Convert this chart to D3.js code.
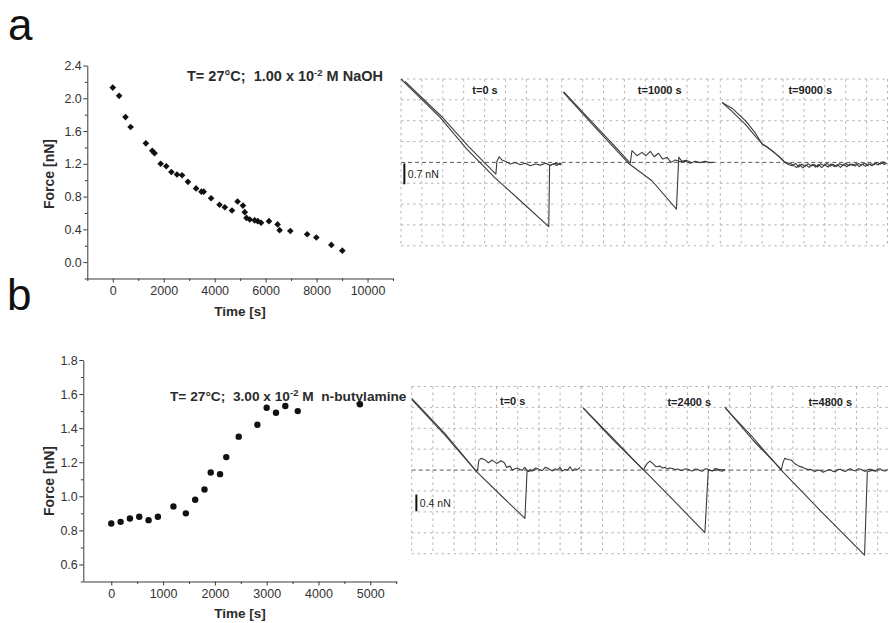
<!DOCTYPE html>
<html>
<head>
<meta charset="utf-8">
<script src="https://cdn.jsdelivr.net/npm/d3@7"></script>
<style>
  html, body { margin: 0; padding: 0; background: #fff; }
  svg { display: block; font-family: "Liberation Sans", Arial, Helvetica, sans-serif; }
</style>
</head>
<body>
<svg id="fig" width="888" height="623"></svg>
<script>
// ---------- (a) pull-off force vs. time in 1.00e-2 M NaOH ----------
const naohTime  = [0, 250, 500, 700, 1300, 1550, 1640, 1880, 2100, 2300, 2520, 2720, 2950, 3270, 3480, 3570,
                   3860, 4190, 4400, 4680, 4900, 5110, 5180, 5250, 5380, 5570, 5690, 5820, 6130, 6470, 6550,
                   6970, 7630, 7990, 8580, 9010];
const naohForce = [2.13, 2.03, 1.77, 1.65, 1.45, 1.36, 1.33, 1.20, 1.17, 1.10, 1.07, 1.06, 0.98, 0.90, 0.86, 0.86,
                   0.78, 0.70, 0.67, 0.63, 0.74, 0.69, 0.61, 0.54, 0.52, 0.51, 0.50, 0.48, 0.50, 0.46, 0.39,
                   0.38, 0.34, 0.30, 0.21, 0.14];
const naohXTicks = [0, 2000, 4000, 6000, 8000, 10000];
const naohXMinor = [-1000, 1000, 3000, 5000, 7000, 9000, 11000];
const naohYTicks = [0.0, 0.4, 0.8, 1.2, 1.6, 2.0, 2.4];
const naohYMinor = [-0.2, 0.2, 0.6, 1.0, 1.4, 1.8, 2.2];

// ---------- (b) pull-off force vs. time in 3.00e-2 M n-butylamine ----------
const amineTime  = [0, 180, 360, 540, 720, 900, 1200, 1440, 1620, 1800, 1920, 2100, 2220, 2460, 2820, 3000,
                    3180, 3360, 3600, 4800];
const amineForce = [0.84, 0.85, 0.87, 0.88, 0.86, 0.88, 0.94, 0.90, 0.98, 1.04, 1.14, 1.13, 1.23, 1.35, 1.42, 1.52,
                    1.49, 1.53, 1.50, 1.54];
const amineXTicks = [0, 1000, 2000, 3000, 4000, 5000];
const amineXMinor = [500, 1500, 2500, 3500, 4500, 5500];
const amineYTicks = [0.6, 0.8, 1.0, 1.2, 1.4, 1.6, 1.8];
const amineYMinor = [0.5, 0.7, 0.9, 1.1, 1.3, 1.5, 1.7];

// ---------- force-distance traces: [piezo position, deflection] in screen divisions ----------
// NaOH, t = 0 s
const naoh0Retract  = [[0, 4.0], [1.87, 2.16], [3.15, 0.64], [4.51, -0.75], [5.79, -1.91], [7.07, -3.08],
                       [7.11, -0.16], [7.3, -0.06], [7.45, -0.15], [7.6, -0.03], [7.71, -0.1]];
const naoh0Approach = [[7.71, -0.08], [7.63, -0.11], [7.39, -0.04], [7.15, -0.14], [6.91, -0.04], [6.67, -0.13],
                       [6.43, -0.08], [6.19, -0.16], [5.95, -0.04], [5.71, -0.11], [5.47, 0.0], [5.23, -0.08],
                       [4.99, 0.05], [4.83, 0.12], [4.70, 0.27], [4.59, 0.05], [4.54, -0.56], [3.25, 0.74],
                       [1.95, 2.19], [0.19, 3.89]];
// NaOH, t = 1000 s
const naoh1000Retract  = [[0.08, 3.36], [1.6, 1.68], [3.19, -0.04], [4.32, -0.88], [5.49, -2.24], [5.6, 0.25],
                          [5.75, 0.05], [5.95, 0.1], [6.2, 0.0]];
const naoh1000Approach = [[7.34, 0.01], [7.10, -0.01], [6.86, 0.05], [6.63, -0.01], [6.39, 0.05], [6.15, -0.04],
                          [5.91, 0.05], [5.67, 0.03], [5.43, 0.12], [5.23, 0.0], [5.04, 0.24], [4.83, 0.16],
                          [4.63, 0.44], [4.43, 0.27], [4.24, 0.53], [4.03, 0.32], [3.84, 0.48], [3.60, 0.32],
                          [3.36, 0.56], [3.28, -0.04], [2.4, 0.92], [1.6, 1.78], [0.1, 3.38]];
// NaOH, t = 9000 s
const naoh9000Retract  = [[0.08, 2.88], [0.56, 2.6], [1.2, 2.0], [1.68, 1.4], [2.0, 0.88], [2.3, 0.7], [2.56, 0.48],
                          [2.8, 0.3], [3.04, 0.05], [3.25, -0.1], [3.44, -0.16], [3.6, -0.05], [3.75, -0.22],
                          [3.9, -0.08], [4.05, -0.2], [4.2, -0.06], [4.35, -0.17], [4.5, -0.1], [4.65, -0.22],
                          [4.8, -0.07], [4.95, -0.15], [5.1, -0.05], [5.25, -0.18], [5.4, -0.09], [5.55, -0.2],
                          [5.7, -0.06], [5.85, -0.14], [6.0, -0.04], [6.15, -0.16], [6.3, -0.08], [6.45, -0.18],
                          [6.6, -0.05], [6.75, -0.13], [6.9, -0.03], [7.05, -0.15], [7.2, -0.06], [7.35, -0.11],
                          [7.5, 0.0], [7.65, -0.09], [7.8, 0.03], [7.95, -0.06]];
const naoh9000Approach = [[7.95, -0.02], [7.85, -0.1], [7.7, 0.01], [7.55, -0.12], [7.4, -0.04], [7.25, -0.16],
                          [7.1, -0.07], [6.95, -0.19], [6.8, -0.09], [6.65, -0.2], [6.5, -0.06], [6.35, -0.15],
                          [6.2, -0.08], [6.05, -0.21], [5.9, -0.1], [5.75, -0.24], [5.6, -0.11], [5.45, -0.2],
                          [5.3, -0.07], [5.15, -0.22], [5.0, -0.12], [4.85, -0.25], [4.7, -0.1], [4.55, -0.23],
                          [4.4, -0.09], [4.25, -0.24], [4.1, -0.12], [3.95, -0.26], [3.8, -0.1], [3.65, -0.25],
                          [3.5, -0.14], [3.35, -0.05], [3.1, 0.0], [2.8, 0.28], [2.5, 0.55], [2.0, 0.9],
                          [1.68, 1.25], [1.2, 1.82], [0.56, 2.45], [0.1, 2.86]];
// n-butylamine, t = 0 s
const amine0Retract  = [[0.03, 3.35], [1.57, 1.67], [3.07, -0.08], [4.24, -1.24], [5.34, -2.31], [5.44, -0.08],
                        [5.66, -0.03], [5.89, 0.03]];
const amine0Approach = [[7.94, 0.13], [7.82, 0.02], [7.70, 0.06], [7.58, -0.03], [7.47, 0.16], [7.35, 0.0],
                        [7.23, 0.03], [7.1, -0.05], [6.99, 0.13], [6.88, 0.0], [6.76, 0.06], [6.64, -0.04],
                        [6.52, 0.03], [6.40, 0.1], [6.29, 0.13], [6.17, -0.02], [6.05, 0.0], [5.93, 0.08],
                        [5.82, 0.10], [5.7, -0.04], [5.58, 0.03], [5.46, -0.06], [5.34, 0.13], [5.22, 0.0],
                        [5.11, 0.03], [4.99, 0.1], [4.87, 0.06], [4.75, 0.0], [4.64, 0.19], [4.48, 0.13],
                        [4.37, 0.35], [4.21, 0.45], [4.01, 0.32], [3.80, 0.48], [3.62, 0.35], [3.43, 0.51],
                        [3.27, 0.56], [3.17, 0.48], [3.11, 0.03], [3.07, -0.08], [1.57, 1.75], [0, 3.43]];
// n-butylamine, t = 2400 s
const amine2400Retract  = [[0.09, 2.96], [1.5, 1.45], [3.0, -0.05], [4.4, -1.5], [5.83, -2.99], [5.99, 0.0],
                           [6.2, -0.03], [6.5, 0.03], [6.78, 0.0]];
const amine2400Approach = [[6.78, 0.03], [6.66, -0.05], [6.54, -0.03], [6.42, 0.06], [6.31, 0.08], [6.19, -0.04],
                           [6.07, -0.02], [5.95, 0.05], [5.84, 0.06], [5.72, -0.05], [5.60, -0.03], [5.48, 0.04],
                           [5.36, 0.05], [5.24, -0.04], [5.13, -0.02], [5.01, 0.05], [4.89, 0.06], [4.77, -0.02],
                           [4.66, 0.0], [4.54, 0.05], [4.42, 0.03], [4.30, 0.08], [4.18, 0.10], [4.06, 0.06],
                           [3.95, 0.13], [3.83, 0.1], [3.71, 0.19], [3.52, 0.16], [3.37, 0.32], [3.24, 0.43],
                           [3.11, 0.32], [2.99, 0.13], [2.93, 0.0], [1.5, 1.52], [0.09, 2.98]];
// n-butylamine, t = 4800 s
const amine4800Retract  = [[-0.18, 2.95], [1.11, 1.56], [2.45, 0.0], [4.42, -2.07], [6.38, -4.07], [6.51, -0.08],
                           [6.78, 0.0], [7.0, -0.04]];
const amine4800Approach = [[7.47, 0.03], [7.36, -0.04], [7.25, -0.03], [7.13, 0.05], [7.01, 0.06], [6.9, -0.05],
                           [6.78, -0.03], [6.66, 0.04], [6.54, 0.03], [6.42, -0.06], [6.30, -0.02], [6.18, 0.05],
                           [6.07, 0.06], [5.95, -0.04], [5.83, 0.0], [5.71, 0.06], [5.60, 0.03], [5.48, -0.07],
                           [5.36, -0.03], [5.24, 0.04], [5.12, 0.03], [5.0, -0.08], [4.89, -0.06], [4.77, 0.02],
                           [4.65, 0.0], [4.53, -0.05], [4.42, -0.10], [4.30, -0.02], [4.18, 0.0], [4.06, -0.06],
                           [3.95, -0.03], [3.83, 0.04], [3.71, 0.03], [3.59, 0.07], [3.47, 0.13], [3.28, 0.19],
                           [3.08, 0.32], [2.92, 0.48], [2.77, 0.51], [2.61, 0.56], [2.53, 0.35], [2.48, 0.13],
                           [2.45, 0.03], [1.11, 1.44], [-0.22, 3.03]];

// ---------------------------------------------------------------------------------------------
const svg = d3.select("#fig");
const INK = "#2b2b2b";

// panel letters
svg.append("text").attr("x", 8).attr("y", 40).attr("font-size", 44).attr("fill", "#111").text("a");
svg.append("text").attr("x", 7).attr("y", 310).attr("font-size", 44).attr("fill", "#111").text("b");

function scatterPanel(cfg) {
  const g = svg.append("g");
  const x = d3.scaleLinear().domain(cfg.xDomain).range(cfg.xRange);
  const y = d3.scaleLinear().domain(cfg.yDomain).range(cfg.yRange);

  g.append("g").attr("transform", `translate(0,${cfg.yRange[0]})`)
    .call(d3.axisBottom(x).tickValues(cfg.xTicks).tickSize(4).tickSizeOuter(0).tickPadding(4)
      .tickFormat(d3.format("d")));
  g.append("g").attr("transform", `translate(0,${cfg.yRange[0]})`)
    .call(d3.axisBottom(x).tickValues(cfg.xMinor).tickSize(2.5).tickFormat(""))
    .call(s => s.select(".domain").remove());
  g.append("g").attr("transform", `translate(${cfg.xRange[0]},0)`)
    .call(d3.axisLeft(y).tickValues(cfg.yTicks).tickSize(4).tickSizeOuter(0).tickPadding(1.5)
      .tickFormat(d3.format(".1f")));
  g.append("g").attr("transform", `translate(${cfg.xRange[0]},0)`)
    .call(d3.axisLeft(y).tickValues(cfg.yMinor).tickSize(2.5).tickFormat(""))
    .call(s => s.select(".domain").remove());

  g.selectAll(".domain, .tick line").attr("stroke", "#3a3a3a").attr("stroke-width", 1);
  g.selectAll(".tick text").attr("font-size", 12.5).attr("fill", "#333")
    .attr("font-family", "'Liberation Sans', Arial, sans-serif");

  // axis titles
  g.append("text").attr("x", cfg.xTitle[0]).attr("y", cfg.xTitle[1]).attr("text-anchor", "middle")
    .attr("font-weight", "bold").attr("font-size", 13.5).attr("fill", INK).text("Time [s]");
  g.append("text").attr("transform", `translate(${cfg.yTitle[0]},${cfg.yTitle[1]}) rotate(-90)`)
    .attr("text-anchor", "middle").attr("font-weight", "bold").attr("font-size", 14).attr("fill", INK)
    .text("Force [nN]");

  // condition title with superscript exponent
  const t = g.append("text").attr("x", cfg.title[0]).attr("y", cfg.title[1])
    .attr("font-weight", "bold").attr("font-size", cfg.titleSize).attr("fill", INK).style("white-space", "pre");
  t.append("tspan").text(cfg.titleParts[0]);
  t.append("tspan").attr("dy", -5).attr("font-size", 9.5).text(cfg.titleParts[1]);
  t.append("tspan").attr("dy", 5).text(cfg.titleParts[2]);

  // markers
  const pts = cfg.xs.map((v, i) => [v, cfg.ys[i]]);
  if (cfg.marker === "diamond") {
    g.append("g").selectAll("path").data(pts).join("path")
      .attr("d", d3.symbol(d3.symbolSquare, 22))
      .attr("transform", d => `translate(${x(d[0])},${y(d[1])}) rotate(45)`)
      .attr("fill", "#111");
  } else {
    g.append("g").selectAll("circle").data(pts).join("circle")
      .attr("cx", d => x(d[0])).attr("cy", d => y(d[1])).attr("r", 3.2).attr("fill", "#111");
  }
}

scatterPanel({
  xDomain: [-1000, 11000], xRange: [87.3, 393],
  yDomain: [-0.2, 2.4], yRange: [278.5, 65.5],
  xTicks: naohXTicks, xMinor: naohXMinor, yTicks: naohYTicks, yMinor: naohYMinor,
  xs: naohTime, ys: naohForce, marker: "diamond",
  xTitle: [240, 316], yTitle: [54, 174],
  title: [187, 81], titleSize: 14.5, titleParts: ["T= 27°C;  1.00 x 10", "-2", " M NaOH"]
});

scatterPanel({
  xDomain: [-540, 5510], xRange: [83.3, 396.7],
  yDomain: [0.5, 1.8], yRange: [581.5, 360],
  xTicks: amineXTicks, xMinor: amineXMinor, yTicks: amineYTicks, yMinor: amineYMinor,
  xs: amineTime, ys: amineForce, marker: "circle",
  xTitle: [240, 618], yTitle: [54, 481],
  title: [170, 401], titleSize: 13.7, titleParts: ["T= 27°C;  3.00 x 10", "-2", " M  n-butylamine"]
});

// ---------- oscilloscope-style force curve screens ----------
function scope(cfg) {
  const g = svg.append("g");
  const x = d3.scaleLinear().domain([0, 1]).range([cfg.left, cfg.left + cfg.divX]);
  const y = d3.scaleLinear().domain([4, -4]).range([cfg.top, cfg.top + 8 * cfg.divY]);
  const right = Math.min(x(cfg.widthDivs), 888);

  // grid
  const vCols = d3.range(0, cfg.widthDivs + 1e-6, 1);
  g.append("g").selectAll("line").data(vCols).join("line")
    .attr("x1", d => x(d)).attr("x2", d => x(d)).attr("y1", y(4)).attr("y2", y(-4))
    .attr("stroke", "#b4b4b4").attr("stroke-width", 1).attr("stroke-dasharray", "2.5,3.5");
  const hRows = d3.range(-4, 4.001, 1).filter(d => d !== 0);
  g.append("g").selectAll("line").data(hRows).join("line")
    .attr("x1", x(0)).attr("x2", right).attr("y1", d => y(d)).attr("y2", d => y(d))
    .attr("stroke", "#b4b4b4").attr("stroke-width", 1).attr("stroke-dasharray", "2.5,3.5");
  // zero-deflection reference row
  g.append("line").attr("x1", x(0)).attr("x2", right).attr("y1", y(0)).attr("y2", y(0))
    .attr("stroke", "#5a5a5a").attr("stroke-width", 1).attr("stroke-dasharray", "4,3");

  const line = d3.line().x(d => x(d[0])).y(d => y(d[1]));
  cfg.traces.forEach(tr => {
    g.append("path").attr("d", line(tr)).attr("fill", "none")
      .attr("stroke", "#3c3c3c").attr("stroke-width", 1.1).attr("stroke-linejoin", "round");
  });

  g.append("text").attr("x", cfg.left + cfg.labelDx).attr("y", cfg.top + cfg.labelDy)
    .attr("text-anchor", "middle").attr("font-weight", "bold").attr("font-size", 11).attr("fill", "#222")
    .text(cfg.label);

  if (cfg.bar) {
    const bx = x(cfg.bar.at[0]);
    g.append("line").attr("x1", bx).attr("x2", bx)
      .attr("y1", y(cfg.bar.at[1])).attr("y2", y(cfg.bar.at[1] - cfg.bar.divs))
      .attr("stroke", "#111").attr("stroke-width", 2);
    g.append("text").attr("x", bx + 3.5).attr("y", y(cfg.bar.at[1] - cfg.bar.divs / 2) + 4)
      .attr("font-size", 10.5).attr("fill", "#222").text(cfg.bar.text);
  }
}

// panel (a) screens
scope({ left: 401, top: 79, divX: 20.9, divY: 20.85, widthDivs: 7.5, label: "t=0 s", labelDx: 84, labelDy: 15,
        traces: [naoh0Retract, naoh0Approach], bar: { at: [0.16, -0.05], divs: 1.0, text: "0.7 nN" } });
scope({ left: 561.7, top: 79, divX: 20.9, divY: 20.85, widthDivs: 7.4, label: "t=1000 s", labelDx: 98, labelDy: 15,
        traces: [naoh1000Retract, naoh1000Approach] });
scope({ left: 720.3, top: 79, divX: 20.9, divY: 20.85, widthDivs: 8, label: "t=9000 s", labelDx: 90, labelDy: 15,
        traces: [naoh9000Retract, naoh9000Approach] });

// panel (b) screens
scope({ left: 411.7, top: 386.5, divX: 21.2, divY: 20.9, widthDivs: 8, label: "t=0 s", labelDx: 101, labelDy: 18.5,
        traces: [amine0Retract, amine0Approach], bar: { at: [0.22, -1.17], divs: 0.8, text: "0.4 nN" } });
scope({ left: 581.3, top: 386.5, divX: 21.2, divY: 20.9, widthDivs: 7, label: "t=2400 s", labelDx: 108, labelDy: 19,
        traces: [amine2400Retract, amine2400Approach] });
scope({ left: 729.3, top: 386.5, divX: 21.2, divY: 20.9, widthDivs: 7.49, label: "t=4800 s", labelDx: 101, labelDy: 19,
        traces: [amine4800Retract, amine4800Approach] });
</script>
</body>
</html>
